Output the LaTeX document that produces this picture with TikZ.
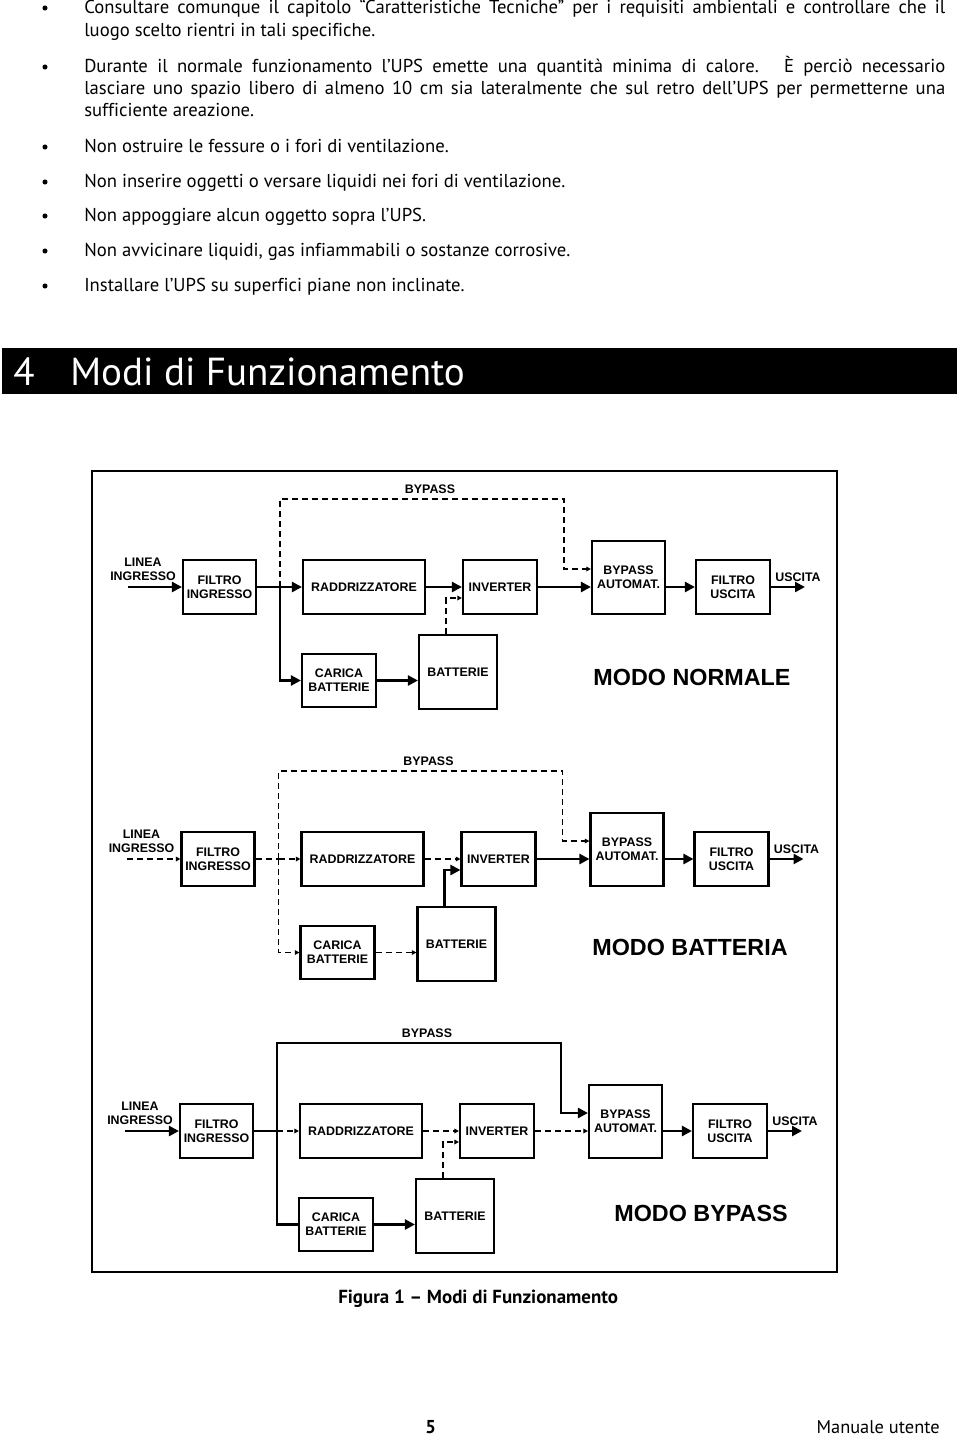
\documentclass[tikz,border=0pt]{standalone}
\usepackage{fontspec}
\setmainfont[Ligatures=CommonOff]{PT Sans}
\newfontfamily\diagfont{Liberation Sans}
\usetikzlibrary{arrows.meta}

\tikzset{
  boxnode/.style={draw, line width=1.6pt, inner sep=0pt, align=center,
    font=\diagfont\bfseries\fontsize{9.3}{10.5}\selectfont},
  lblnode/.style={inner sep=0pt, align=center,
    font=\diagfont\bfseries\fontsize{9.3}{10.5}\selectfont},
  modenode/.style={inner sep=0pt, font=\diagfont\bfseries\fontsize{17.5}{20}\selectfont},
  big/.style={line width=1.8pt, -{Triangle[length=7.5pt,width=7.5pt]}},
  sol/.style={line width=1.8pt},
  dsh/.style={line width=1pt, dash pattern=on 4.5pt off 3pt, -{Triangle[length=3.5pt,width=3.5pt]}},
  dshn/.style={line width=1pt, dash pattern=on 4.5pt off 3pt},
  txt/.style={anchor=base west, inner sep=0pt, font=\fontsize{14}{16}\selectfont},
}

\newcommand\upsdiagram[4]{% #1 shift, #2 prefix, #3 mode text/pos, #4 styles
\begin{scope}[shift={#1}, name prefix=#2, #4]
  \node[boxnode, minimum width=54.75pt, minimum height=40.5pt] (fi) at (219.5,587) {FILTRO\\INGRESSO};
  \node[boxnode, minimum width=91.5pt, minimum height=40.5pt] (rd) at (364,587) {RADDRIZZATORE};
  \node[boxnode, minimum width=55.5pt, minimum height=40.5pt] (inv) at (500,587) {INVERTER};
  \node[boxnode, minimum width=54.75pt, minimum height=54.75pt] (ba) at (628.5,577.5) {BYPASS\\AUTOMAT.};
  \node[boxnode, minimum width=55.5pt, minimum height=40.5pt] (fu) at (733,587) {FILTRO\\USCITA};
  \node[boxnode, minimum width=55.5pt, minimum height=39.75pt] (cb) at (339,680.5) {CARICA\\BATTERIE};
  \node[boxnode, minimum width=58.5pt, minimum height=55.5pt] (bt) at (458,672) {BATTERIE};
  \node[lblnode] (linea) at (143,569) {LINEA\\INGRESSO};
  \node[lblnode] (usc) at (798,577) {USCITA};
  \node[lblnode] (byl) at (430,489) {BYPASS};
  #3
  \coordinate (in) at (128,587);
  \coordinate (out) at (805,587);
  \coordinate (j) at (280,587);
  \coordinate (tl) at (280,499);
  \coordinate (tr) at (564,499);
  \coordinate (trd) at (564,569);
  \coordinate (bi) at (446,598);
  \draw[sIn] (in) -- (fi.west);
  \draw[sFJ] (fi.east) -- (j);
  \draw[sJR] (j) -- (rd.west);
  \draw[sRI] (rd.east) -- (inv.west);
  \draw[sIB] (inv.east) -- (ba.west |- inv.east);
  \draw[big] (ba.east |- fu.west) -- (fu.west);
  \draw[big] (fu.east) -- (out);
  \draw[sByp] (j) -- (tl) -- (tr) |- (ba.west |- trd);
  \draw[sCh] (j) |- (cb.west);
  \draw[sCB] (cb.east) -- (bt.west |- cb.east);
  \draw[sBI] (bt.north -| bi) |- (inv.west |- bi);
\end{scope}}

\begin{document}
\begin{tikzpicture}[x=0.75pt,y=-0.75pt]
\useasboundingbox (0,0) rectangle (960,1438);

% bullet text
\fill (45,8) circle[radius=1.9pt];
\node[txt] (t1) at (84,13.5) {\makebox[645.75pt][s]{Consultare comunque il capitolo “Caratteristiche Tecniche” per i requisiti ambientali e controllare che il}};
\node[txt] (t2) at (84,36.5) {luogo scelto rientri in tali specifiche.};
\fill (45,67) circle[radius=1.9pt];
\node[txt] (t3) at (84,72.5) {\makebox[645.75pt][s]{Durante il normale funzionamento l’UPS emette una quantità minima di calore.\hspace{0.3em} È perciò necessario}};
\node[txt] (t4) at (84,94.5) {\makebox[645.75pt][s]{lasciare uno spazio libero di almeno 10 cm sia lateralmente che sul retro dell’UPS per permetterne una}};
\node[txt] (t5) at (84,116.5) {sufficiente areazione.};
\fill (45,147) circle[radius=1.9pt];
\node[txt] (t6) at (84,152.5) {Non ostruire le fessure o i fori di ventilazione.};
\fill (45,182) circle[radius=1.9pt];
\node[txt] (t7) at (84,187.5) {Non inserire oggetti o versare liquidi nei fori di ventilazione.};
\fill (45,216) circle[radius=1.9pt];
\node[txt] (t8) at (84,221.5) {Non appoggiare alcun oggetto sopra l’UPS.};
\fill (45,251) circle[radius=1.9pt];
\node[txt] (t9) at (84,256.5) {Non avvicinare liquidi, gas infiammabili o sostanze corrosive.};
\fill (45,286) circle[radius=1.9pt];
\node[txt] (t10) at (84,291.5) {Installare l’UPS su superfici piane non inclinate.};

% header bar
\fill (2,348) rectangle (957,394);
\node[anchor=base west, inner sep=0pt, text=white, font=\fontsize{29.3}{32}\selectfont] (h4) at (13,385) {4};
\node[anchor=base west, inner sep=0pt, text=white, font=\fontsize{29.3}{32}\selectfont] (hm) at (70,385) {Modi di Funzionamento};

% frame
\draw[line width=1.5pt] (92,471) rectangle (837,1272);

\upsdiagram{(0,0)}{n-}{\node[modenode] (modo) at (692,677) {MODO NORMALE};}
 {sIn/.style=big, sFJ/.style=sol, sJR/.style=big, sRI/.style=big, sIB/.style=big,
  sByp/.style=dsh, sCh/.style=big, sCB/.style=big, sBI/.style=dsh}
\upsdiagram{(-1.5,272)}{b-}{\node[modenode] (modo) at (691.5,675) {MODO BATTERIA};}
 {sIn/.style=dsh, sFJ/.style=dshn, sJR/.style=dsh, sRI/.style=dsh, sIB/.style=big,
  sByp/.style=dsh, sCh/.style=dsh, sCB/.style=dsh, sBI/.style=big}
\upsdiagram{(-3,544)}{p-}{\node[modenode] (modo) at (704,669) {MODO BYPASS};}
 {sIn/.style=big, sFJ/.style=sol, sJR/.style=dsh, sRI/.style=dsh, sIB/.style=dsh,
  sByp/.style=big, sCh/.style=sol, sCB/.style=big, sBI/.style=dsh}

% caption & footer
\node[anchor=base west, inner sep=0pt, font=\bfseries\fontsize{14.2}{16}\selectfont] (cap) at (338,1303) {Figura 1 – Modi di Funzionamento};
\node[anchor=base west, inner sep=0pt, font=\bfseries\fontsize{14}{16}\selectfont] (pg) at (425,1433) {5};
\node[anchor=base east, inner sep=0pt, font=\fontsize{13.8}{16}\selectfont] (man) at (940,1433) {Manuale utente};
\end{tikzpicture}
\end{document}
